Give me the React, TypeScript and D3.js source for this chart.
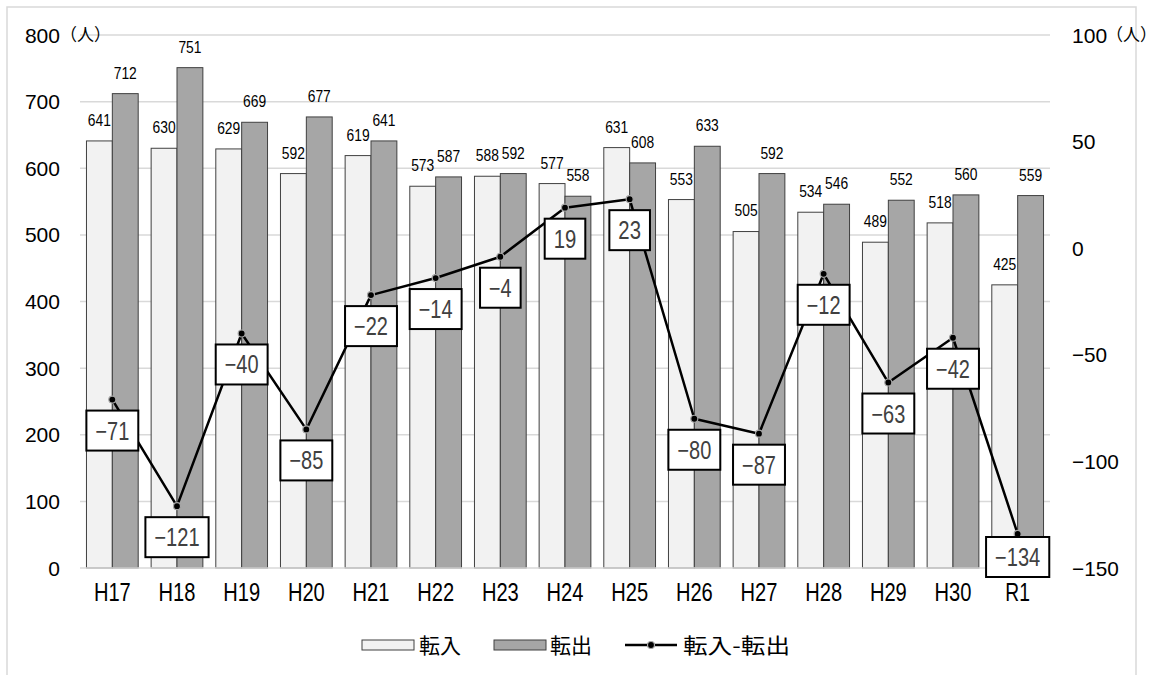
import React, { useEffect, useRef } from 'react';
import * as d3 from 'd3';

// 年度
const years = ['H17', 'H18', 'H19', 'H20', 'H21', 'H22', 'H23', 'H24', 'H25', 'H26', 'H27', 'H28', 'H29', 'H30', 'R1'];
// 転入
const tennyu = [641, 630, 629, 592, 619, 573, 588, 577, 631, 553, 505, 534, 489, 518, 425];
// 転出
const tenshutsu = [712, 751, 669, 677, 641, 587, 592, 558, 608, 633, 592, 546, 552, 560, 559];
// 転入-転出
const sagaku = [-71, -121, -40, -85, -22, -14, -4, 19, 23, -80, -87, -12, -63, -42, -134];

const leftTicks = [0, 100, 200, 300, 400, 500, 600, 700, 800];
const rightTicks = [-150, -100, -50, 0, 50, 100];

const W = 1158;
const H = 675;
const NUM_FONT = "'Liberation Sans', Arial, sans-serif";
const JP_FONT = "'Noto Sans CJK JP', sans-serif";

const minus = (v: number) => (v < 0 ? '\u2212' + Math.abs(v) : String(v));

// narrow half-width look: force each character to a fixed advance
function squeeze(sel: any, perChar: number) {
  sel.attr('textLength', (d: any, i: number, n: any) => {
    const t = (n[i] as SVGTextElement).textContent || '';
    return t.length * perChar;
  }).attr('lengthAdjust', 'spacingAndGlyphs');
}

export default function App() {
  const svgRef = useRef<SVGSVGElement | null>(null);

  useEffect(() => {
    const svg = d3.select(svgRef.current);
    svg.selectAll('*').remove();

    const left = 80, right = 1050, top = 35, bottom = 568;

    svg.append('rect').attr('width', W).attr('height', H).attr('fill', '#fff');
    // chart frame
    svg.append('rect')
      .attr('x', 7).attr('y', 7).attr('width', 1129).attr('height', 700)
      .attr('fill', 'none').attr('stroke', '#d9d9d9').attr('stroke-width', 1.5);

    const x = d3.scaleBand().domain(years).range([left, right]).paddingInner(0.2).paddingOuter(0.1);
    const xc = (d: string) => (x(d) as number) + x.bandwidth() / 2;
    const yL = d3.scaleLinear().domain([0, 800]).range([bottom, top]);
    const yR = d3.scaleLinear().domain([-150, 100]).range([bottom, top]);

    // gridlines
    svg.append('g').selectAll('line')
      .data(leftTicks.filter(t => t > 0))
      .enter().append('line')
      .attr('x1', left).attr('x2', right)
      .attr('y1', d => yL(d)).attr('y2', d => yL(d))
      .attr('stroke', '#d9d9d9').attr('stroke-width', 1.5);

    // left tick labels
    const lt = svg.append('g').selectAll('text')
      .data(leftTicks).enter().append('text')
      .attr('x', 60).attr('y', d => yL(d)).attr('dy', '0.36em')
      .attr('text-anchor', 'end')
      .attr('font-family', NUM_FONT).attr('font-size', 21).attr('fill', '#000')
      .text(d => String(d));
    squeeze(lt, 11.7);
    svg.append('text')
      .attr('x', 60).attr('y', yL(800)).attr('dy', '0.36em')
      .attr('font-family', JP_FONT).attr('font-size', 17).text('（人）');

    // right tick labels
    const rt = svg.append('g').selectAll('text')
      .data(rightTicks).enter().append('text')
      .attr('x', 1072).attr('y', d => yR(d)).attr('dy', '0.36em')
      .attr('font-family', NUM_FONT).attr('font-size', 21).attr('fill', '#000')
      .text(d => minus(d));
    squeeze(rt, 11.7);
    svg.append('text')
      .attr('x', 1106).attr('y', yR(100)).attr('dy', '0.36em')
      .attr('font-family', JP_FONT).attr('font-size', 17).text('（人）');

    // bars
    const bw = x.bandwidth() / 2;
    const g = svg.append('g');
    g.selectAll('rect.in').data(years).enter().append('rect')
      .attr('x', d => x(d) as number).attr('width', bw)
      .attr('y', (d, i) => yL(tennyu[i])).attr('height', (d, i) => bottom - yL(tennyu[i]))
      .attr('fill', '#f2f2f2').attr('stroke', '#404040').attr('stroke-width', 1);
    g.selectAll('rect.out').data(years).enter().append('rect')
      .attr('x', d => (x(d) as number) + bw).attr('width', bw)
      .attr('y', (d, i) => yL(tenshutsu[i])).attr('height', (d, i) => bottom - yL(tenshutsu[i]))
      .attr('fill', '#a6a6a6').attr('stroke', '#404040').attr('stroke-width', 1);

    // axis baseline
    svg.append('line').attr('x1', left).attr('x2', right).attr('y1', bottom).attr('y2', bottom)
      .attr('stroke', '#d9d9d9').attr('stroke-width', 1.5);

    // bar value labels
    const bi = g.selectAll('text.in').data(years).enter().append('text')
      .attr('x', d => (x(d) as number) + bw / 2).attr('y', (d, i) => yL(tennyu[i]) - 21).attr('dy', '0.36em')
      .attr('text-anchor', 'middle').attr('font-family', NUM_FONT).attr('font-size', 16.5)
      .text((d, i) => tennyu[i]);
    squeeze(bi, 7.7);
    const bo = g.selectAll('text.out').data(years).enter().append('text')
      .attr('x', d => (x(d) as number) + bw * 1.5).attr('y', (d, i) => yL(tenshutsu[i]) - 21).attr('dy', '0.36em')
      .attr('text-anchor', 'middle').attr('font-family', NUM_FONT).attr('font-size', 16.5)
      .text((d, i) => tenshutsu[i]);
    squeeze(bo, 7.7);

    // category labels
    const cl = svg.append('g').selectAll('text').data(years).enter().append('text')
      .attr('x', d => xc(d)).attr('y', 592).attr('dy', '0.36em')
      .attr('text-anchor', 'middle').attr('font-family', NUM_FONT).attr('font-size', 25)
      .text(d => d);
    squeeze(cl, 12.3);

    // line
    const line = d3.line<number>().x((d, i) => xc(years[i])).y(d => yR(d));
    svg.append('path').datum(sagaku).attr('d', line)
      .attr('fill', 'none').attr('stroke', '#000').attr('stroke-width', 2.5).attr('stroke-linejoin', 'round');
    svg.append('g').selectAll('circle').data(sagaku).enter().append('circle')
      .attr('cx', (d, i) => xc(years[i])).attr('cy', d => yR(d)).attr('r', 3.5)
      .attr('fill', '#000').attr('stroke', '#a6a6a6').attr('stroke-width', 1.2);

    // boxed data labels
    const lbl = svg.append('g').selectAll('g').data(sagaku).enter().append('g');
    lbl.each(function (d, i) {
      const gg = d3.select(this);
      const cx = xc(years[i]);
      let cy = yR(d) + 31;
      if (cy + 20 > 577) cy = 557;
      const s = minus(d);
      const tw = s.length * 11.3;
      gg.append('rect')
        .attr('x', cx - tw / 2 - 9).attr('y', cy - 20).attr('width', tw + 18).attr('height', 40)
        .attr('fill', '#fff').attr('stroke', '#000').attr('stroke-width', 2);
      gg.append('text')
        .attr('x', cx).attr('y', cy).attr('dy', '0.36em')
        .attr('text-anchor', 'middle').attr('font-family', NUM_FONT).attr('font-size', 25)
        .attr('fill', '#404040')
        .attr('textLength', tw).attr('lengthAdjust', 'spacingAndGlyphs')
        .text(s);
    });

    // legend
    const ly = 645;
    const leg = svg.append('g');
    leg.append('rect').attr('x', 362).attr('y', ly - 5).attr('width', 52).attr('height', 10)
      .attr('fill', '#f2f2f2').attr('stroke', '#404040').attr('stroke-width', 1);
    leg.append('text').attr('x', 419).attr('y', ly).attr('dy', '0.36em')
      .attr('font-family', JP_FONT).attr('font-size', 21).text('転入');
    leg.append('rect').attr('x', 494).attr('y', ly - 5).attr('width', 52).attr('height', 10)
      .attr('fill', '#a6a6a6').attr('stroke', '#404040').attr('stroke-width', 1);
    leg.append('text').attr('x', 550).attr('y', ly).attr('dy', '0.36em')
      .attr('font-family', JP_FONT).attr('font-size', 21).text('転出');
    leg.append('line').attr('x1', 625).attr('x2', 677).attr('y1', ly).attr('y2', ly)
      .attr('stroke', '#000').attr('stroke-width', 2.5);
    leg.append('circle').attr('cx', 651).attr('cy', ly).attr('r', 3.5)
      .attr('fill', '#000').attr('stroke', '#a6a6a6').attr('stroke-width', 1.2);
    leg.append('text').attr('x', 683).attr('y', ly).attr('dy', '0.36em')
      .attr('font-family', JP_FONT).attr('font-size', 21).attr('textLength', 107)
      .attr('lengthAdjust', 'spacingAndGlyphs').text('転入-転出');
  }, []);

  return (
    <div style={{ position: 'fixed', top: 0, left: 0, width: W, height: H, overflow: 'hidden', background: '#fff' }}>
      <svg ref={svgRef} width={W} height={H} style={{ display: 'block' }} />
    </div>
  );
}
